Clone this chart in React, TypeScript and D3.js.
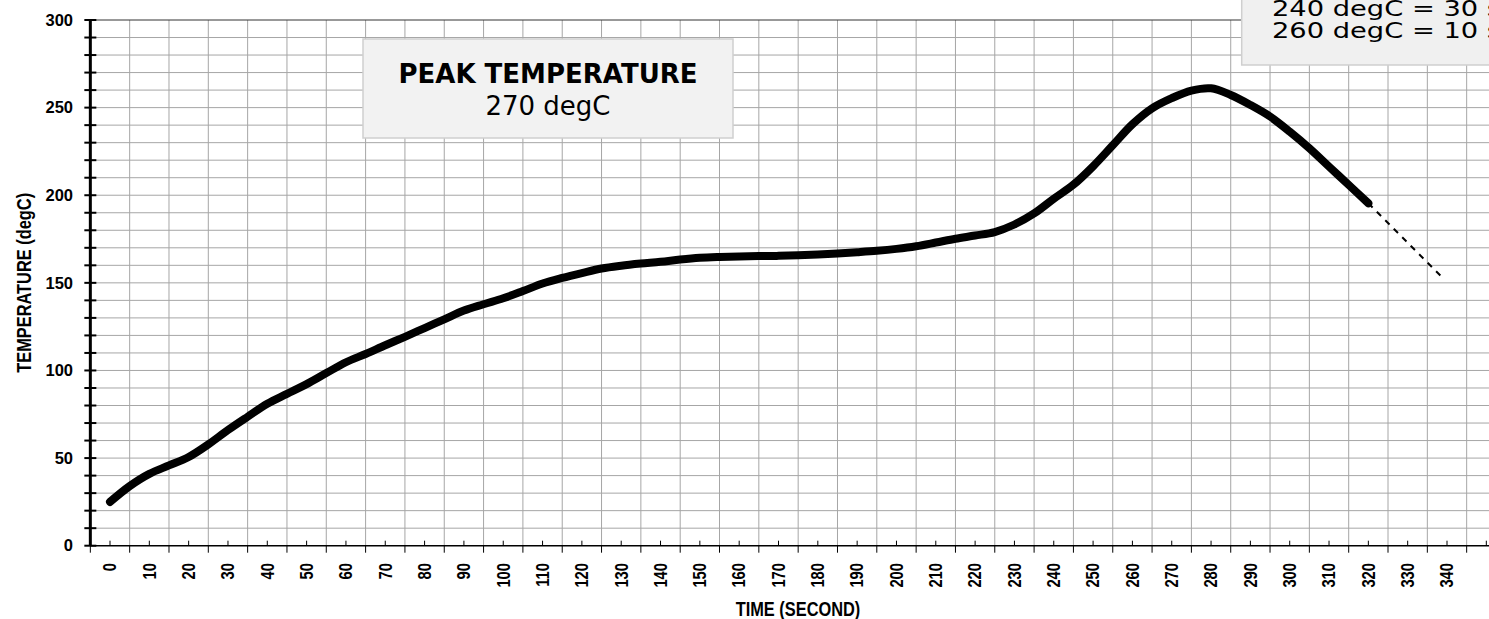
import React from "react";
import * as d3 from "d3";

// reflow profile
const timeSec = [
  0, 5, 10, 15, 20, 25, 30, 35, 40, 45, 50, 55, 60, 65, 70, 75, 80, 85, 90, 95,
  100, 105, 110, 115, 120, 125, 130, 135, 140, 145, 150, 155, 160, 165, 170,
  175, 180, 185, 190, 195, 200, 205, 210, 215, 220, 225, 230, 235, 240, 245,
  250, 255, 260, 265, 270, 275, 280, 285, 290, 295, 300, 305, 310, 315, 320,
];
const tempC = [
  25, 34, 41, 45.8, 50.6, 57.8, 66, 73.6, 81, 86.6, 92.2, 98.5, 104.7, 109.4,
  114.4, 119.2, 124.2, 129.2, 134.2, 137.8, 141.2, 145.3, 149.6, 152.8, 155.6,
  158.2, 159.8, 161, 162, 163.3, 164.3, 164.8, 165.1, 165.3, 165.4, 165.7,
  166.2, 166.8, 167.5, 168.3, 169.4, 170.9, 173, 175.2, 177, 179, 183.3,
  189.6, 198, 206, 216.5, 228.5, 240.5, 249.6, 255.4, 259.7, 261, 257.2,
  251.5, 244.9, 236.3, 226.8, 216.3, 205.9, 195.4,
];

// dashed continuation after the last point
const trendTime = [320, 339];
const trendTemp = [195.4, 152.6];

const xLabels = d3.range(0, 341, 10);
const yTicks = d3.range(0, 301, 10);
const yLabels = [0, 50, 100, 150, 200, 250, 300];

const peakTitle = "PEAK TEMPERATURE";
const peakValue = "270 degC";
const holdLines = ["240 degC = 30 s", "260 degC = 10 s"];

const W = 1489;
const H = 619;

const narrow = "'Liberation Sans', Arial, sans-serif";
const verdana = "'DejaVu Sans', Verdana, sans-serif";

const App: React.FC = () => {
  const x = d3.scaleLinear().domain([0, 340]).range([110, 1447]);
  const y = d3.scaleLinear().domain([0, 300]).range([545.7, 20]);

  const x0 = x(-5);
  const xEnd = x(355);
  const yBase = y(0);
  const yTop = y(300);

  const pts: [number, number][] = timeSec.map((t, i) => [t, tempC[i]]);
  const trend: [number, number][] = trendTime.map((t, i) => [t, trendTemp[i]]);

  const line = d3
    .line<[number, number]>()
    .x((d) => x(d[0]))
    .y((d) => y(d[1]))
    .curve(d3.curveCatmullRom.alpha(0.5));
  const straight = d3
    .line<[number, number]>()
    .x((d) => x(d[0]))
    .y((d) => y(d[1]));

  const vGrid = d3.range(5, 356, 10);
  const hGrid = d3.range(10, 300, 10);

  return (
    <svg
      width={W}
      height={H}
      style={{ position: "absolute", left: 0, top: 0, background: "#fff" }}
    >
      {/* grid */}
      <g stroke="#a6a6a6" strokeWidth={1}>
        {vGrid.map((v) => (
          <line key={"v" + v} x1={x(v)} x2={x(v)} y1={yTop} y2={yBase} />
        ))}
        {hGrid.map((t) => (
          <line key={"h" + t} x1={x0} x2={xEnd} y1={y(t)} y2={y(t)} />
        ))}
      </g>
      <line x1={x0} x2={xEnd} y1={yTop} y2={yTop} stroke="#333" strokeWidth={1} />

      {/* peak box */}
      <rect x={363} y={39} width={370} height={99} fill="#f2f2f2" stroke="#cfcfcf" strokeWidth={1.5} />
      <text x={548} y={82.7} textAnchor="middle" fontFamily={verdana} fontWeight="bold" fontSize={26}>
        {peakTitle}
      </text>
      <text x={548} y={115} textAnchor="middle" fontFamily={verdana} fontSize={26}>
        {peakValue}
      </text>

      {/* hold time box, cut off at the top right */}
      <rect x={1241.7} y={-10} width={300} height={75} fill="#f0f0f0" stroke="#cfcfcf" strokeWidth={1.5} />
      {holdLines.map((s, i) => (
        <text
          key={s}
          transform={`translate(1272,${16 + i * 22.3}) scale(1.3,1)`}
          fontFamily={verdana}
          fontSize={21}
        >
          {s}
        </text>
      ))}

      {/* series */}
      <path
        d={line(pts) ?? ""}
        fill="none"
        stroke="#000"
        strokeWidth={8}
        strokeLinecap="round"
        strokeLinejoin="round"
      />
      <path d={straight(trend) ?? ""} fill="none" stroke="#000" strokeWidth={2} strokeDasharray="6,6" />

      {/* y axis */}
      <line x1={x0} x2={x0} y1={yTop} y2={yBase} stroke="#000" strokeWidth={3} />
      {yTicks.map((t) => (
        <line key={"yt" + t} x1={x0 - 6} x2={x0 + 6} y1={y(t)} y2={y(t)} stroke="#000" strokeWidth={2} />
      ))}
      {yLabels.map((t) => (
        <text
          key={"yl" + t}
          x={73}
          y={y(t)}
          dy="0.35em"
          textAnchor="end"
          fontFamily={narrow}
          fontWeight="bold"
          fontSize={16.5}
        >
          {t}
        </text>
      ))}

      {/* x axis */}
      <line x1={x0} x2={xEnd} y1={yBase} y2={yBase} stroke="#000" strokeWidth={1.5} />
      {vGrid.concat([-5]).map((v) => (
        <line key={"xd" + v} x1={x(v)} x2={x(v)} y1={yBase} y2={yBase + 7} stroke="#000" strokeWidth={1} />
      ))}
      {d3.range(0, 351, 10).map((v) => (
        <line key={"xu" + v} x1={x(v)} x2={x(v)} y1={yBase - 5} y2={yBase} stroke="#000" strokeWidth={1} />
      ))}
      {xLabels.map((v) => (
        <text
          key={"xl" + v}
          transform={`translate(${x(v)},563) rotate(-90) scale(0.82,1)`}
          dy="0.35em"
          textAnchor="end"
          fontFamily={narrow}
          fontWeight="bold"
          fontSize={18}
        >
          {v}
        </text>
      ))}

      {/* axis titles */}
      <text
        transform="translate(798,616) scale(0.82,1)"
        textAnchor="middle"
        fontFamily={narrow}
        fontWeight="bold"
        fontSize={20}
      >
        TIME (SECOND)
      </text>
      <text
        transform={`translate(31,${(yTop + yBase) / 2}) rotate(-90) scale(0.82,1)`}
        textAnchor="middle"
        fontFamily={narrow}
        fontWeight="bold"
        fontSize={20}
      >
        TEMPERATURE (degC)
      </text>
    </svg>
  );
};

export default App;
